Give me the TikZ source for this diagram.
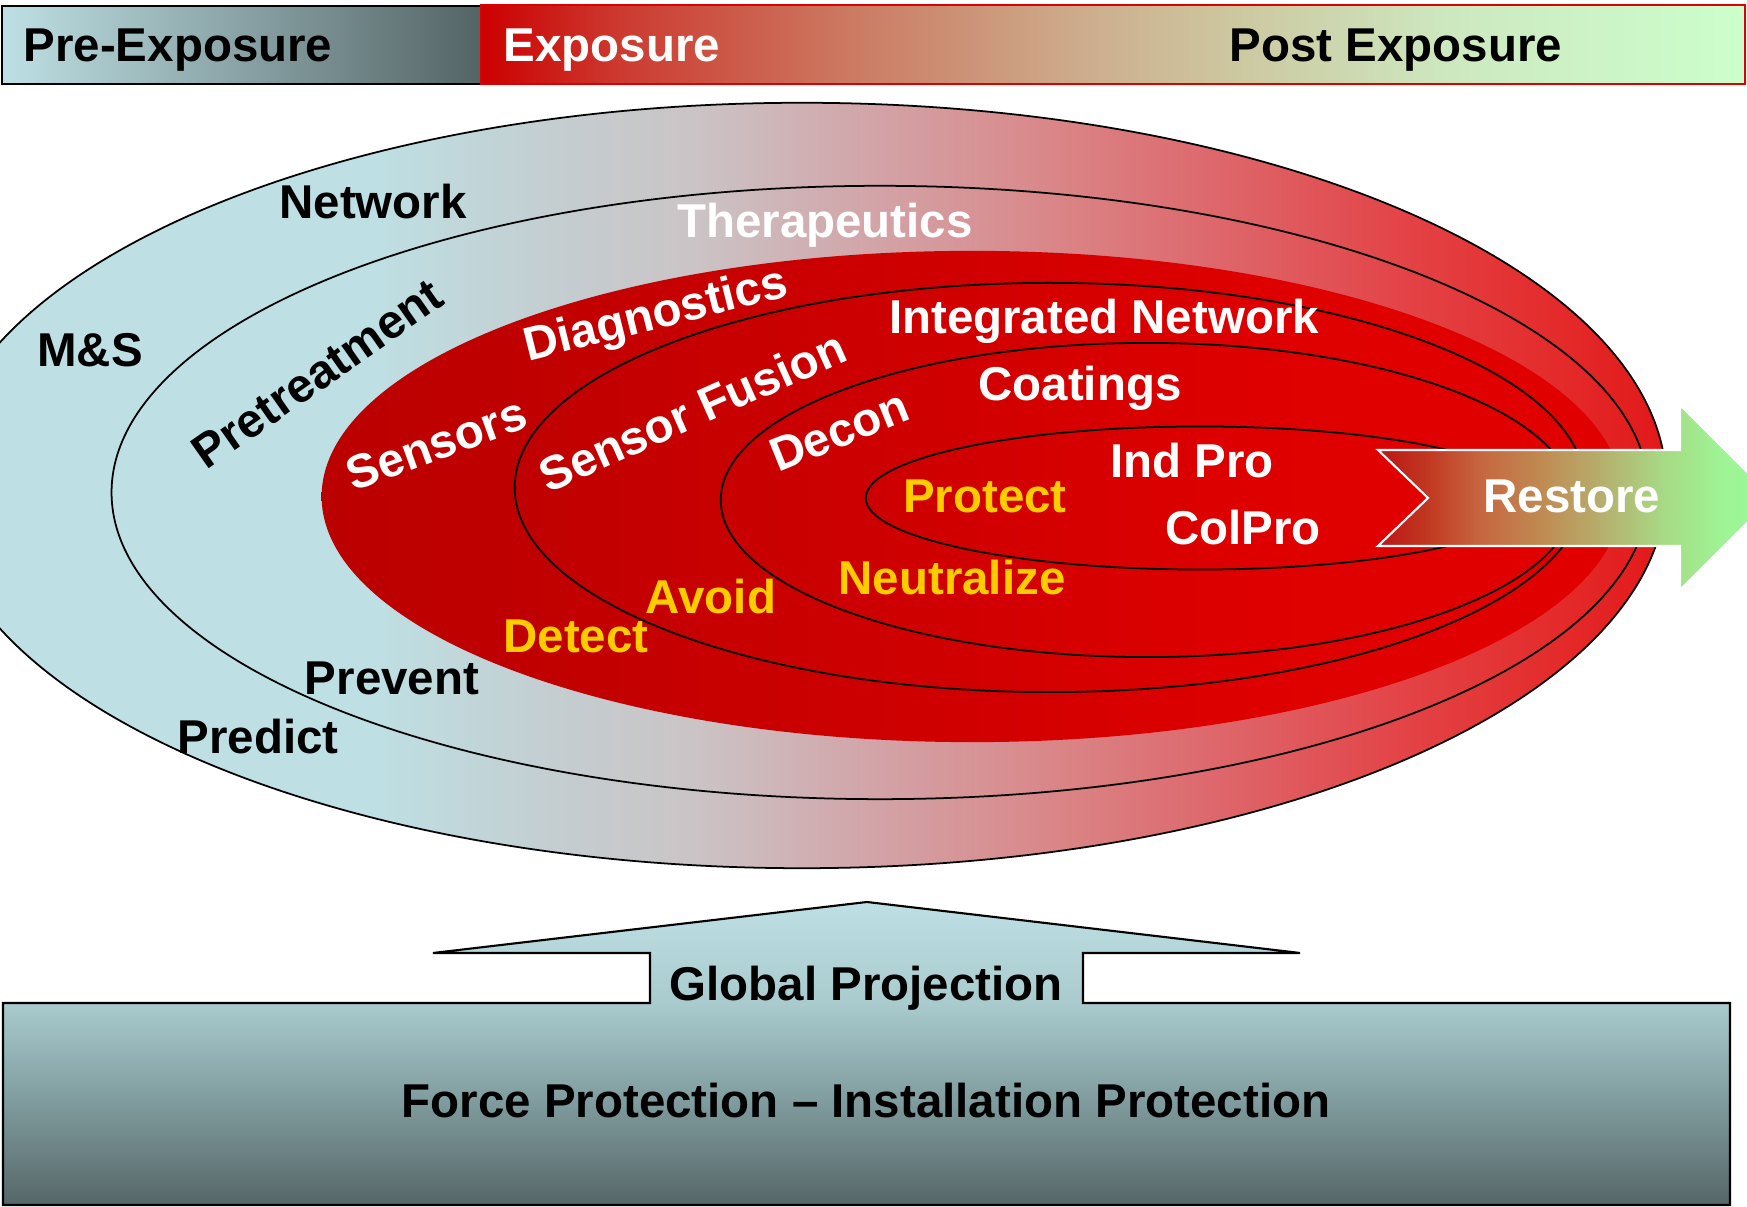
\documentclass[tikz,border=0pt]{standalone}
\usepackage{fontspec}
\setmainfont{Liberation Sans}
\definecolor{lblyellow}{HTML}{FFCC00}
% outer ellipse gradient
\definecolor{oA}{HTML}{BEDFE3}
\definecolor{oB}{HTML}{C4CDD0}
\definecolor{oC}{HTML}{CBC3C5}
\definecolor{oD}{HTML}{D2A4A8}
\definecolor{oE}{HTML}{D98A8C}
\definecolor{oF}{HTML}{DD6A6E}
\definecolor{oG}{HTML}{E34447}
\definecolor{oH}{HTML}{E42A2A}
\definecolor{oI}{HTML}{E21818}
% red ellipse
\definecolor{rA}{HTML}{BB0000}
\definecolor{rB}{HTML}{BF0000}
\definecolor{rC}{HTML}{CE0000}
\definecolor{rD}{HTML}{DE0000}
\definecolor{rE}{HTML}{E00000}
% top bar
\definecolor{bA}{HTML}{CC0000}
\definecolor{bB}{HTML}{CC3A30}
\definecolor{bC}{HTML}{CC7A62}
\definecolor{bD}{HTML}{CDB090}
\definecolor{bE}{HTML}{CDCAA2}
\definecolor{bF}{HTML}{CDE8C0}
\definecolor{bG}{HTML}{CCFFCC}
\definecolor{preL}{HTML}{BEE0E4}
\definecolor{preR}{HTML}{546466}
\definecolor{barborder}{HTML}{DD0000}
% restore arrow
\definecolor{aA}{HTML}{BC1414}
\definecolor{aB}{HTML}{C23A22}
\definecolor{aC}{HTML}{C66640}
\definecolor{aD}{HTML}{C08A52}
\definecolor{aE}{HTML}{B6AE6C}
\definecolor{aF}{HTML}{A8D884}
\definecolor{aG}{HTML}{9EF494}
\definecolor{aH}{HTML}{9CFA98}
% base
\definecolor{gA}{HTML}{566668}
\definecolor{gB}{HTML}{809C9E}
\definecolor{gC}{HTML}{A9CBCE}
\definecolor{gD}{HTML}{BEE0E4}

\pgfdeclarehorizontalshading{outershade}{100bp}{color(0bp)=(oA); color(25bp)=(oA); color(37.79bp)=(oA); color(43bp)=(oB); color(47.05bp)=(oC); color(51.97bp)=(oD); color(56.6bp)=(oE); color(61.52bp)=(oF); color(67.3bp)=(oG); color(71.93bp)=(oH); color(75bp)=(oI); color(100bp)=(oI)}
\pgfdeclarehorizontalshading{redshade}{100bp}{color(0bp)=(rA); color(25bp)=(rA); color(31.85bp)=(rB); color(47.2bp)=(rC); color(60.7bp)=(rD); color(66.5bp)=(rE); color(75bp)=(rE); color(100bp)=(rE)}
\pgfdeclarehorizontalshading{barshade}{100bp}{color(0bp)=(bA); color(25bp)=(bA); color(30.5bp)=(bB); color(39.6bp)=(bC); color(49.49bp)=(bD); color(55.42bp)=(bE); color(63.33bp)=(bF); color(75bp)=(bG); color(100bp)=(bG)}
\pgfdeclarehorizontalshading{restoreshade}{100bp}{color(0bp)=(aA); color(25bp)=(aA); color(31.6bp)=(aB); color(37.9bp)=(aC); color(45.6bp)=(aD); color(53.2bp)=(aE); color(60.8bp)=(aF); color(68.4bp)=(aG); color(75bp)=(aH); color(100bp)=(aH)}
\pgfdeclareverticalshading{baseshade}{100bp}{color(0bp)=(gA); color(25bp)=(gA); color(42.3bp)=(gB); color(58.33bp)=(gC); color(75bp)=(gD); color(100bp)=(gD)}

\tikzset{
  lbl/.style={font=\fontsize{13.5}{16}\selectfont\bfseries, inner sep=0pt, text height=9.67pt, text depth=0pt, anchor=center},
  blk/.style={lbl, text=black},
  wht/.style={lbl, text=white},
  ylw/.style={lbl, text=lblyellow},
  ring/.style={draw=black, line width=0.5pt},
}

\begin{document}
\begin{tikzpicture}[x=0.01cm,y=-0.01cm]
\fill[white] (0,0) rectangle (1747,1207);
\useasboundingbox (0,0) rectangle (1747,1207);
\clip (0,0) rectangle (1747,1207);

% ---------- ellipses ----------
\shadedraw[shading=outershade, ring] (802,485.5) ellipse [x radius=8.64cm, y radius=3.825cm];
\draw[ring] (880,492.5) ellipse [x radius=7.68cm, y radius=3.065cm];
\shade[shading=redshade] (972,496.5) ellipse [x radius=6.5cm, y radius=2.455cm];
\draw[ring] (1050,487.5) ellipse [x radius=5.35cm, y radius=2.045cm];
\draw[ring] (1147,500) ellipse [x radius=4.26cm, y radius=1.57cm];
\draw[ring] (1200,498) ellipse [x radius=3.34cm, y radius=0.715cm];

% ---------- restore arrow ----------
\shadedraw[shading=restoreshade, draw=white, line width=0.6pt]
  (1378,450) -- (1680,450) -- (1680,405) -- (1772.5,497.5) -- (1680,590) -- (1680,546) -- (1378,546) -- (1428,498) -- cycle;

% ---------- top bar ----------
\shade[left color=preL, right color=preR] (2,6) rectangle (481,84);
\draw[black, line width=0.5pt] (2,6) rectangle (481,84);
\shadedraw[shading=barshade, draw=barborder, line width=0.8pt] (481,5) rectangle (1745,84);

% ---------- base box with arrow ----------
\shadedraw[shading=baseshade, draw=black, line width=0.6pt]
  (3,1205) -- (3,1003) -- (650,1003) -- (650,953) -- (433,953) -- (867,902) -- (1300,953) -- (1083,953) -- (1083,1003) -- (1730,1003) -- (1730,1205) -- cycle;

% ---------- labels ----------
\node[blk] (preexp) at (178,45) {Pre-Exposure};
\node[wht] (exp) at (612,45) {Exposure};
\node[blk] (postexp) at (1396,45) {Post Exposure};

\node[blk] (network) at (373,202) {Network};
\node[blk] (ms) at (90,350) {M\&S};
\node[wht] (thera) at (825,221) {Therapeutics};
\node[blk, rotate=35] (pretreat) at (317,373) {Pretreatment};
\node[wht, rotate=14] (diag) at (655,312) {Diagnostics};
\node[wht, rotate=20] (sensors) at (436,443) {Sensors};
\node[wht, rotate=24] (fusion) at (692,411) {Sensor Fusion};
\node[wht, rotate=22] (decon) at (839,430) {Decon};
\node[wht] (intnet) at (1104,317) {Integrated Network};
\node[wht] (coat) at (1080,384) {Coatings};
\node[wht] (indpro) at (1192,461) {Ind Pro};
\node[ylw] (protect) at (985,496) {Protect};
\node[wht] (colpro) at (1243,528) {ColPro};
\node[wht] (restore) at (1572,496) {Restore};
\node[ylw] (neutral) at (952,578) {Neutralize};
\node[ylw] (avoid) at (711,597) {Avoid};
\node[ylw] (detect) at (576,636) {Detect};
\node[blk] (prevent) at (392,678) {Prevent};
\node[blk] (predict) at (258,737) {Predict};

\node[blk] (global) at (866,984) {Global Projection};
\node[blk] (force) at (866,1101) {Force Protection – Installation Protection};
\end{tikzpicture}
\end{document}
